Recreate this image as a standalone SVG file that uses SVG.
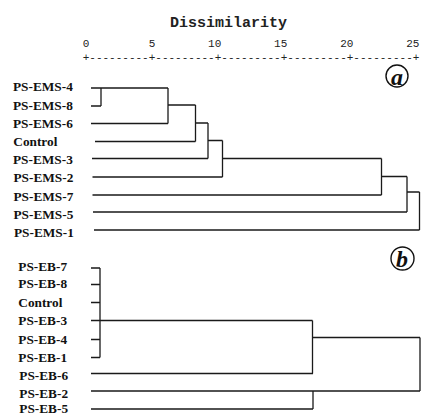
<svg xmlns="http://www.w3.org/2000/svg" width="421" height="415" viewBox="0 0 421 415">
<style>
.lbl{font-family:"Liberation Serif","Times New Roman",serif;font-weight:bold;font-size:13.3px;fill:#111}
.mono{font-family:"Liberation Mono","Courier New",monospace;fill:#222}
.ln{stroke:#1a1a1a;stroke-width:1.3;fill:none}
.tag{font-family:"Liberation Serif","Times New Roman",serif;font-weight:bold;font-style:italic;font-size:24px;fill:#111;text-anchor:middle}
.ring{fill:none;stroke:#111;stroke-width:1.4}
</style>
<rect width="421" height="415" fill="#fff"/>
<g id="axis">
<text class="mono" x="170" y="27" font-size="15" font-weight="bold">Dissimilarity</text>
<text class="mono" x="82.7" y="47" font-size="11" xml:space="preserve">0         5        10        15        20        25</text>
<text class="mono" x="82.7" y="60.5" font-size="11" xml:space="preserve">+---------+---------+---------+---------+---------+</text>
</g>
<g id="tag-a"><circle class="ring" cx="397" cy="76" r="11"/><text class="tag" x="397" y="84.5">a</text></g>
<g id="tag-b"><circle class="ring" cx="402.5" cy="258.5" r="11.5"/><text class="tag" x="402" y="266.5">b</text></g>
<g id="labels-a">
<text class="lbl" x="13" y="91">PS-EMS-4</text>
<text class="lbl" x="13" y="109.5">PS-EMS-8</text>
<text class="lbl" x="13" y="127.5">PS-EMS-6</text>
<text class="lbl" x="13.3" y="146">Control</text>
<text class="lbl" x="13" y="163.5">PS-EMS-3</text>
<text class="lbl" x="13.5" y="181.5">PS-EMS-2</text>
<text class="lbl" x="13.5" y="200.5">PS-EMS-7</text>
<text class="lbl" x="13.5" y="218.5">PS-EMS-5</text>
<text class="lbl" x="14" y="236.5">PS-EMS-1</text>
</g>
<g id="labels-b">
<text class="lbl" x="18.3" y="271">PS-EB-7</text>
<text class="lbl" x="18.3" y="287.6">PS-EB-8</text>
<text class="lbl" x="18.3" y="307">Control</text>
<text class="lbl" x="18.3" y="325">PS-EB-3</text>
<text class="lbl" x="18.3" y="343.6">PS-EB-4</text>
<text class="lbl" x="18.3" y="361.6">PS-EB-1</text>
<text class="lbl" x="19.3" y="380.3">PS-EB-6</text>
<text class="lbl" x="19.3" y="398">PS-EB-2</text>
<text class="lbl" x="19.3" y="412.5">PS-EB-5</text>
</g>
<g id="connectors">
<path class="ln" d="M91 88H168M101 88V106M91 106H101M91 123.5H168M168 88V123.5M168 105H195.5M195.5 105V141.5M95 141.5H195.5M195.5 123H208M208 123V158.5M208 140.5H222.5M92 158.5H208M222.5 140.5V177M92.5 177H222.5M222.5 158.5H381.5M381.5 158.5V195M92.5 195H381.5M381.5 176.5H407M407 176.5V212M93 212H407M407 192H419.5M419.5 192V230M94 230H419.5"/>
<path class="ln" d="M91 268H100M91 284.5H100M91 302.5H100M91 320.5H312.5M91 339.5H100M91 357.5H100M100 268V357.5M312.5 320.5V373.5M91 373.5H313M313 337.5H420M420 337.5V391M91 391H420M313 391V409M91 409H313"/>
</g>
</svg>
